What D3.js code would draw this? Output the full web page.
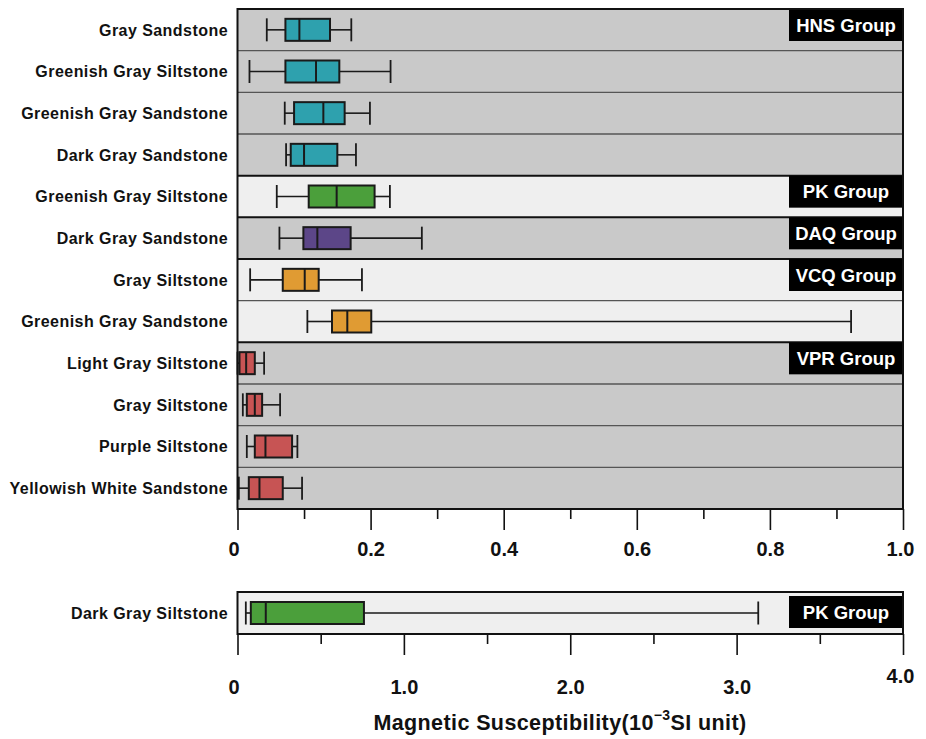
<!DOCTYPE html>
<html>
<head>
<meta charset="utf-8">
<script src="https://cdn.jsdelivr.net/npm/d3@7"></script>
<style>
  html, body { margin: 0; padding: 0; background: #ffffff; }
  svg { display: block; font-family: "Liberation Sans", Arial, sans-serif; }
</style>
</head>
<body>
<svg id="chart" width="926" height="739"></svg>
<script>
// Lithology rows of the upper panel (top to bottom)
const categories = [
  "Gray Sandstone", "Greenish Gray Siltstone", "Greenish Gray Sandstone", "Dark Gray Sandstone",
  "Greenish Gray Siltstone", "Dark Gray Sandstone", "Gray Siltstone", "Greenish Gray Sandstone",
  "Light Gray Siltstone", "Gray Siltstone", "Purple Siltstone", "Yellowish White Sandstone"
];
const groups = ["HNS", "HNS", "HNS", "HNS", "PK", "DAQ", "VCQ", "VCQ", "VPR", "VPR", "VPR", "VPR"];

// Box statistics (10^-3 SI)
const minValues    = [0.044, 0.018, 0.071, 0.073, 0.059, 0.063, 0.019, 0.105, 0.000, 0.008, 0.014, 0.002];
const q1Values     = [0.072, 0.072, 0.085, 0.080, 0.107, 0.099, 0.068, 0.142, 0.003, 0.014, 0.026, 0.017];
const medianValues = [0.093, 0.118, 0.129, 0.100, 0.149, 0.120, 0.101, 0.165, 0.013, 0.026, 0.042, 0.033];
const q3Values     = [0.139, 0.153, 0.161, 0.150, 0.206, 0.170, 0.122, 0.201, 0.026, 0.037, 0.082, 0.068];
const maxValues    = [0.171, 0.230, 0.199, 0.178, 0.229, 0.277, 0.187, 0.922, 0.040, 0.064, 0.090, 0.097];

// Lower panel: wide-range sample
const lowerCategory = ["Dark Gray Siltstone"];
const lowerGroup = ["PK"];
const lowerMin = [0.05], lowerQ1 = [0.08], lowerMedian = [0.17], lowerQ3 = [0.76], lowerMax = [3.13];

const groupNames = ["HNS", "PK", "DAQ", "VCQ", "VPR"];
const groupColors = ["#2ea1ae", "#4b9f3b", "#5c4688", "#e09b33", "#c75454"];
const groupShade  = ["#c9c9c9", "#efefef", "#c9c9c9", "#efefef", "#c9c9c9"];

const upperTicks = [0, 0.2, 0.4, 0.6, 0.8, 1.0];
const upperMinor = [0.1, 0.3, 0.5, 0.7, 0.9];
const lowerTicks = [0, 1, 2, 3, 4];
const lowerMinor = [0.5, 1.5, 2.5, 3.5];

const svg = d3.select("#chart");
const left = 237.5, right = 903;
const colorOf = d3.scaleOrdinal(groupNames, groupColors);
const shadeOf = d3.scaleOrdinal(groupNames, groupShade);
const tickFont = "'Liberation Sans Narrow', 'Liberation Sans', Arial, sans-serif";

function drawPanel(opts) {
  const g = svg.append("g");
  const x = d3.scaleLinear().domain(opts.domain).range([left, right]);
  const idx = d3.range(opts.cats.length);
  const y = d3.scaleBand().domain(idx).range([opts.top, opts.bottom]).padding(0);
  const bw = y.bandwidth();

  // row backgrounds
  g.selectAll("rect.row").data(idx).join("rect")
    .attr("x", left).attr("width", right - left)
    .attr("y", i => y(i)).attr("height", bw)
    .attr("fill", i => shadeOf(opts.groups[i]));

  // row separators: darker between groups
  g.selectAll("line.sep").data(idx.slice(1)).join("line")
    .attr("x1", left).attr("x2", right)
    .attr("y1", i => y(i)).attr("y2", i => y(i))
    .attr("stroke", i => opts.groups[i] !== opts.groups[i - 1] ? "#111" : "#555")
    .attr("stroke-width", i => opts.groups[i] !== opts.groups[i - 1] ? 2 : 1.4);

  // group tags at the first row of each group
  const firsts = idx.filter(i => i === 0 || opts.groups[i] !== opts.groups[i - 1]);
  const tagW = 114, tagH = 32;
  const tag = g.selectAll("g.tag").data(firsts).join("g");
  tag.append("rect")
    .attr("x", right - tagW).attr("width", tagW)
    .attr("y", i => y(i) + opts.tagOffset).attr("height", tagH)
    .attr("fill", "#000");
  tag.append("text")
    .attr("x", right - tagW / 2).attr("y", i => y(i) + opts.tagOffset + tagH / 2)
    .attr("dy", "0.36em").attr("text-anchor", "middle")
    .attr("fill", "#fff").attr("font-weight", "bold").attr("font-size", 18.5)
    .text(i => opts.groups[i] + " Group");

  // whiskers
  const cy = i => y(i) + bw / 2;
  const boxH = 22, capH = 23;
  g.selectAll("line.wl").data(idx).join("line")
    .attr("x1", i => x(opts.min[i])).attr("x2", i => x(opts.q1[i]))
    .attr("y1", cy).attr("y2", cy).attr("stroke", "#1a1a1a").attr("stroke-width", 1.6);
  g.selectAll("line.wh").data(idx).join("line")
    .attr("x1", i => x(opts.q3[i])).attr("x2", i => x(opts.max[i]))
    .attr("y1", cy).attr("y2", cy).attr("stroke", "#1a1a1a").attr("stroke-width", 1.6);
  ["min", "max"].forEach(k => {
    g.selectAll("line.cap" + k).data(idx).join("line")
      .attr("x1", i => x(opts[k][i])).attr("x2", i => x(opts[k][i]))
      .attr("y1", i => cy(i) - capH / 2).attr("y2", i => cy(i) + capH / 2)
      .attr("stroke", "#1a1a1a").attr("stroke-width", 1.8);
  });

  // boxes and medians
  g.selectAll("rect.box").data(idx).join("rect")
    .attr("x", i => x(opts.q1[i])).attr("width", i => x(opts.q3[i]) - x(opts.q1[i]))
    .attr("y", i => cy(i) - boxH / 2).attr("height", boxH)
    .attr("fill", i => colorOf(opts.groups[i]))
    .attr("stroke", "#1a1a1a").attr("stroke-width", 2);
  g.selectAll("line.med").data(idx).join("line")
    .attr("x1", i => x(opts.median[i])).attr("x2", i => x(opts.median[i]))
    .attr("y1", i => cy(i) - boxH / 2).attr("y2", i => cy(i) + boxH / 2)
    .attr("stroke", "#1a1a1a").attr("stroke-width", 2);

  // frame
  g.append("rect").attr("x", left).attr("y", opts.top)
    .attr("width", right - left).attr("height", opts.bottom - opts.top)
    .attr("fill", "none").attr("stroke", "#111").attr("stroke-width", 2);

  // category labels
  g.selectAll("text.cat").data(idx).join("text")
    .attr("x", 228).attr("y", cy).attr("dy", "0.36em")
    .attr("text-anchor", "end").attr("font-weight", "bold").attr("font-size", 16)
    .attr("letter-spacing", 0.45)
    .attr("fill", "#111")
    .text(i => opts.cats[i]);

  // axis: major ticks with labels, minor ticks without
  const major = g.append("g").attr("transform", `translate(0,${opts.bottom})`)
    .call(d3.axisBottom(x).tickValues(opts.ticks).tickSize(21).tickPadding(opts.pad)
      .tickFormat(opts.fmt));
  g.append("g").attr("transform", `translate(0,${opts.bottom})`)
    .call(d3.axisBottom(x).tickValues(opts.minor).tickSize(10).tickFormat(""))
    .call(a => a.select(".domain").remove());
  g.selectAll(".tick line").attr("stroke", "#111").attr("stroke-width", 1.6);
  major.select(".domain").remove();
  major.selectAll("text")
    .attr("font-size", 20).attr("font-weight", "bold").attr("fill", "#111")
    .attr("font-family", tickFont);
  return major;
}

const fmtTick = v => v === 0 ? "0" : d3.format(".1f")(v);

const upperAxis = drawPanel({
  domain: [0, 1], cats: categories, groups: groups,
  min: minValues, q1: q1Values, median: medianValues, q3: q3Values, max: maxValues,
  top: 9, bottom: 509, ticks: upperTicks, minor: upperMinor, fmt: fmtTick, tagOffset: 0, pad: 12
});
upperAxis.selectAll(".tick text").filter(d => d === 0).attr("dx", -4);
upperAxis.selectAll(".tick text").filter(d => d === 1).attr("dx", -3);

const lowerAxis = drawPanel({
  domain: [0, 4], cats: lowerCategory, groups: lowerGroup,
  min: lowerMin, q1: lowerQ1, median: lowerMedian, q3: lowerQ3, max: lowerMax,
  top: 592, bottom: 634, ticks: lowerTicks, minor: lowerMinor, fmt: fmtTick, tagOffset: 4, pad: 25
});
lowerAxis.selectAll(".tick text").filter(d => d === 0).attr("dx", -4);
lowerAxis.selectAll(".tick text").filter(d => d === 4).attr("dx", -3)
  .attr("transform", "translate(0,-11)");

// axis title with superscript exponent
const title = svg.append("text")
  .attr("x", 560).attr("y", 730).attr("text-anchor", "middle")
  .attr("font-weight", "bold").attr("font-size", 21.5).attr("letter-spacing", 0.4)
  .attr("fill", "#111");
title.append("tspan").text("Magnetic Susceptibility(10");
title.append("tspan").attr("dy", -10).attr("font-size", 14).text("\u22123");
title.append("tspan").attr("dy", 10).text("SI unit)");
</script>
</body>
</html>
